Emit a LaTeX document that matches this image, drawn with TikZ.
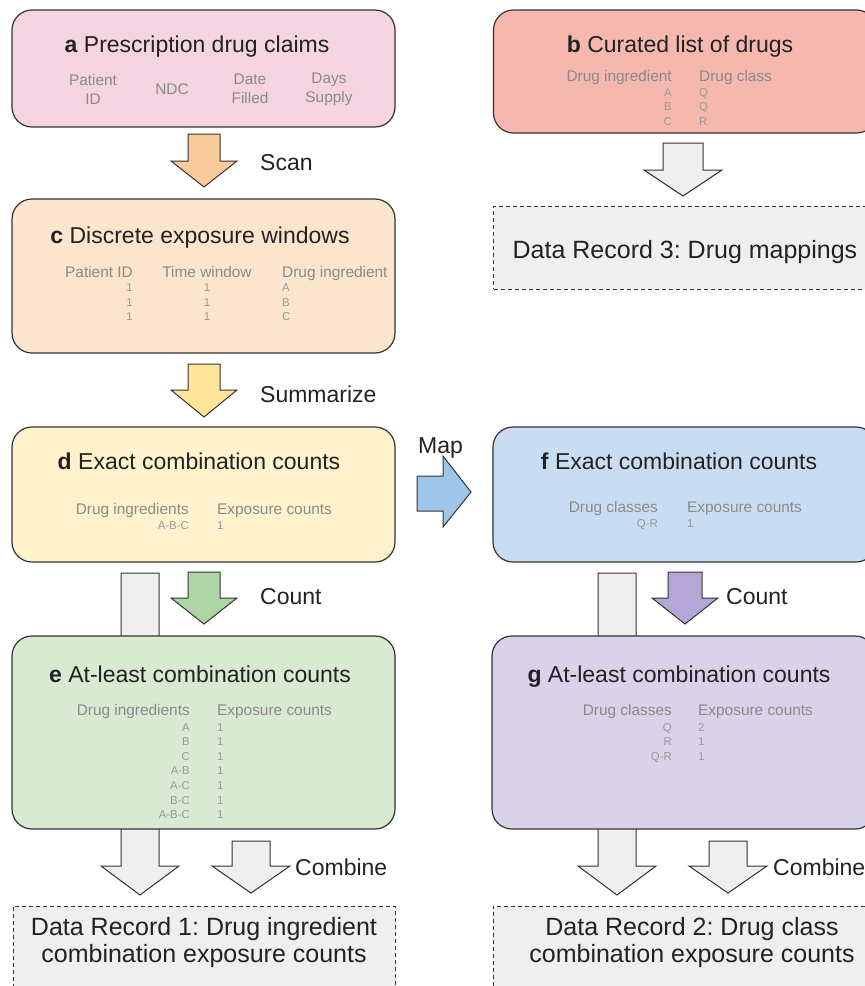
\documentclass[tikz,border=0pt]{standalone}
\usepackage{fontspec}
\setmainfont{Liberation Sans}
\usepackage{xcolor}
\usepackage{tikz}
\usetikzlibrary{positioning}
\frenchspacing
\definecolor{claimpink}{HTML}{F4D4E0}
\definecolor{curatedred}{HTML}{F6B8AE}
\definecolor{windowpeach}{HTML}{FCE5CD}
\definecolor{exactyellow}{HTML}{FFF2CC}
\definecolor{leastgreen}{HTML}{D9EAD3}
\definecolor{classblue}{HTML}{C9DDF2}
\definecolor{classpurple}{HTML}{D9D2E9}
\definecolor{scanorange}{HTML}{F9CB9C}
\definecolor{sumyellow}{HTML}{FFE599}
\definecolor{countgreen}{HTML}{ADD5A6}
\definecolor{mapblue}{HTML}{9FC5E8}
\definecolor{countpurple}{HTML}{B4A7D6}
\definecolor{recordgray}{HTML}{EFEFEF}
\definecolor{boxline}{HTML}{333333}
\definecolor{titletext}{HTML}{222222}
\definecolor{headgray}{HTML}{8A8A8A}
\definecolor{cellgray}{HTML}{999999}

% block arrow pointing down: fill, x, y top, y head, y tip, half shaft, half head
\newcommand{\downblock}[7]{%
  \draw[blockline, fill=#1] (#2-#6,#3) -- (#2+#6,#3) -- (#2+#6,#4) -- (#2+#7,#4)
    -- (#2,#5) -- (#2-#7,#4) -- (#2-#6,#4) -- cycle;}

\tikzset{
  panel/.style={draw=boxline, line width=1.2pt, rounded corners=20pt, inner sep=0pt, outer sep=0pt},
  record/.style={draw=boxline, line width=0.9pt, dash pattern=on 4pt off 3pt, fill=recordgray, inner sep=0pt, outer sep=0pt},
  blockline/.style={draw=boxline, line width=1pt},
  title/.style={anchor=base, text=titletext, font=\fontsize{23}{27}\selectfont, inner sep=0pt},
  steplabel/.style={anchor=base west, text=titletext, font=\fontsize{23}{27}\selectfont, inner sep=0pt},
  rectext/.style={anchor=base, text=titletext, font=\fontsize{25}{28}\selectfont, inner sep=0pt},
  colhead/.style={text=headgray, font=\fontsize{15.4}{19}\selectfont, inner sep=0pt},
  cell/.style={text=cellgray, font=\fontsize{11.4}{14}\selectfont, inner sep=0pt}
}

\begin{document}
\begin{tikzpicture}[x=1pt, y=-1pt]
  \useasboundingbox (0,0) rectangle (865,986);
  \clip (0,0) rectangle (865,986);

  % long grey arrows behind e and g
  \downblock{recordgray}{140}{573}{866}{895}{19}{39}
  \downblock{recordgray}{617}{573}{866}{895}{19}{39}

  % left column
  \node[panel, fill=claimpink, minimum width=383pt, minimum height=117pt] (claims) at (203.5,68.5) {};
  \node[panel, fill=windowpeach, minimum width=383pt, minimum height=154pt] (windows) at (203.5,276) {};
  \node[panel, fill=exactyellow, minimum width=383pt, minimum height=135pt] (exactIng) at (203.5,494.5) {};
  \node[panel, fill=leastgreen, minimum width=383pt, minimum height=193pt] (leastIng) at (203.5,732.5) {};
  \node[record, minimum width=382pt, minimum height=110pt] (recOne) at (204,961) {};

  % right column
  \node[panel, fill=curatedred, minimum width=383pt, minimum height=123pt] (curated) at (685,71.5) {};
  \node[record, minimum width=383pt, minimum height=83pt] (recThree) at (685,247.5) {};
  \node[panel, fill=classblue, minimum width=383pt, minimum height=135pt] (exactCls) at (684.5,494.5) {};
  \node[panel, fill=classpurple, minimum width=383pt, minimum height=193pt] (leastCls) at (683.5,732.5) {};
  \node[record, minimum width=383pt, minimum height=110pt] (recTwo) at (684.5,961) {};

  % titles
  \node[title] (claimsT) at (197,52) {\textbf{a} Prescription drug claims};
  \node[title] (windowsT) at (200,243) {\textbf{c} Discrete exposure windows};
  \node[title] (exactIngT) at (199,469) {\textbf{d} Exact combination counts};
  \node[title] (leastIngT) at (200,682) {\textbf{e} At-least combination counts};
  \node[title] (curatedT) at (680,52) {\textbf{b} Curated list of drugs};
  \node[title] (exactClsT) at (679,469) {\textbf{f} Exact combination counts};
  \node[title] (leastClsT) at (679,682) {\textbf{g} At-least combination counts};

  % a: claim fields
  \node[colhead, align=center] (fPatient) at (93,89) {Patient\\ID};
  \node[colhead] (fNdc) at (172,89) {NDC};
  \node[colhead, align=center] (fDate) at (250,89) {Date\\Filled};
  \node[colhead, align=center] (fDays) at (329,89) {Days\\Supply};

  % c: exposure windows
  \node[colhead, anchor=base east] (wPatient) at (133,277) {Patient ID};
  \node[colhead, anchor=base] (wTime) at (207,277) {Time window};
  \node[colhead, anchor=base west] (wDrug) at (282,277) {Drug ingredient};
  \foreach \y/\d [count=\i] in {291/A,306/B,320/C} {
    \node[cell, anchor=base east] (wP\i) at (133,\y) {1};
    \node[cell, anchor=base] (wT\i) at (207,\y) {1};
    \node[cell, anchor=base west] (wD\i) at (282,\y) {\d};
  }

  % d: exact ingredient counts
  \node[colhead, anchor=base east] (dIng) at (189,514) {Drug ingredients};
  \node[colhead, anchor=base west] (dCnt) at (217,514) {Exposure counts};
  \node[cell, anchor=base east] (dRowA) at (189,529) {A-B-C};
  \node[cell, anchor=base west] (dRowB) at (217,529) {1};

  % e: at-least ingredient counts
  \node[colhead, anchor=base east] (eIng) at (190,715) {Drug ingredients};
  \node[colhead, anchor=base west] (eCnt) at (217,715) {Exposure counts};
  \foreach \y/\c [count=\i] in {731/A,745/B,760/C,774/A-B,789/A-C,804/B-C,818/A-B-C} {
    \node[cell, anchor=base east] (eC\i) at (190,\y) {\c};
    \node[cell, anchor=base west] (eN\i) at (217,\y) {1};
  }

  % b: curated list
  \node[colhead, anchor=base east] (bIng) at (672,81) {Drug ingredient};
  \node[colhead, anchor=base west] (bCls) at (699,81) {Drug class};
  \foreach \y/\d/\k [count=\i] in {96/A/Q,110/B/Q,125/C/R} {
    \node[cell, anchor=base east] (bI\i) at (672,\y) {\d};
    \node[cell, anchor=base west] (bK\i) at (699,\y) {\k};
  }

  % f: exact class counts
  \node[colhead, anchor=base east] (fCls) at (658,512) {Drug classes};
  \node[colhead, anchor=base west] (fCnt) at (687,512) {Exposure counts};
  \node[cell, anchor=base east] (fRowA) at (658,527) {Q-R};
  \node[cell, anchor=base west] (fRowB) at (687,527) {1};

  % g: at-least class counts
  \node[colhead, anchor=base east] (gCls) at (672,715) {Drug classes};
  \node[colhead, anchor=base west] (gCnt) at (698,715) {Exposure counts};
  \foreach \y/\c/\n [count=\i] in {731/Q/2,745/R/1,760/Q-R/1} {
    \node[cell, anchor=base east] (gC\i) at (672,\y) {\c};
    \node[cell, anchor=base west] (gN\i) at (698,\y) {\n};
  }

  % data records
  \node[rectext] (recOneA) at (204,935) {Data Record 1: Drug ingredient};
  \node[rectext] (recOneB) at (204,962) {combination exposure counts};
  \node[rectext] (recTwoA) at (692,935) {Data Record 2: Drug class};
  \node[rectext] (recTwoB) at (692,962) {combination exposure counts};
  \node[rectext] (recThreeT) at (685,258) {Data Record 3: Drug mappings};

  % step arrows
  \downblock{scanorange}{204}{134}{161}{187}{16}{33}
  \downblock{sumyellow}{204}{364}{390}{417}{16}{33}
  \downblock{countgreen}{204}{572}{598}{624}{16}{33}
  \downblock{countpurple}{685}{572}{598}{624}{17}{33}
  \downblock{recordgray}{683}{143}{170}{196}{20}{39}
  \downblock{recordgray}{251}{841}{866}{893}{19}{39}
  \downblock{recordgray}{728}{841}{866}{893}{19}{39}
  \draw[blockline, fill=mapblue] (417,476) -- (443,476) -- (443,456) -- (471,492)
    -- (443,527) -- (443,511) -- (417,511) -- cycle;

  \node[steplabel] (scanL) at (260,170) {Scan};
  \node[steplabel] (sumL) at (260,402) {Summarize};
  \node[steplabel] (countL) at (260,604) {Count};
  \node[steplabel] (mapL) at (418,453) {Map};
  \node[steplabel] (countR) at (726,604) {Count};
  \node[steplabel] (combL) at (295,875) {Combine};
  \node[steplabel] (combR) at (773,875) {Combine};
\end{tikzpicture}
\end{document}
